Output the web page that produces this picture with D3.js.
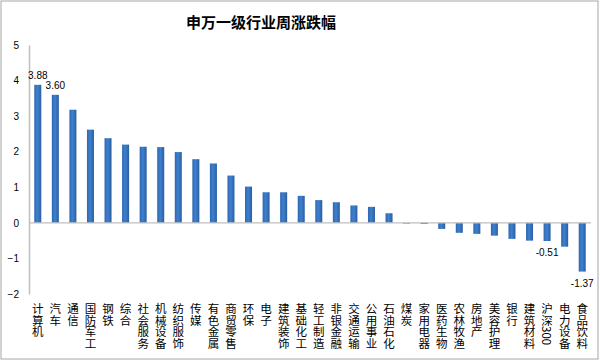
<!DOCTYPE html>
<html>
<head>
<meta charset="utf-8">
<script src="https://cdn.jsdelivr.net/npm/d3@7"></script>
<style>
  body { margin: 0; background: #fff; }
  svg { display: block; }
</style>
</head>
<body>
<div id="chart"></div>
<script>
var categories = ["计算机","汽车","通信","国防军工","钢铁","综合","社会服务","机械设备","纺织服饰","传媒",
    "有色金属","商贸零售","环保","电子","建筑装饰","基础化工","轻工制造","非银金融","交通运输","公用事业",
    "石油石化","煤炭","家用电器","医药生物","农林牧渔","房地产","美容护理","银行","建筑材料","沪深300",
    "电力设备","食品饮料"];
var values = [3.88, 3.60, 3.18, 2.62, 2.38, 2.20, 2.14, 2.13, 1.99, 1.79,
    1.67, 1.33, 1.02, 0.86, 0.86, 0.76, 0.64, 0.58, 0.49, 0.45,
    0.27, -0.02, -0.03, -0.17, -0.28, -0.31, -0.36, -0.45, -0.50, -0.51,
    -0.67, -1.37];
var labelled = ["计算机", "汽车", "沪深300", "食品饮料"];
var yTicks = [-2, -1, 0, 1, 2, 3, 4, 5];
var title = "申万一级行业周涨跌幅";

var width = 600, height = 361;
var svg = d3.select("#chart").append("svg")
    .attr("width", width)
    .attr("height", height);

// outer frame
svg.append("rect")
    .attr("x", 1).attr("y", 1)
    .attr("width", width - 3).attr("height", height - 3)
    .attr("fill", "#fff")
    .attr("stroke", "#a6a6a6")
    .attr("stroke-width", 1);

var defs = svg.append("defs");
var grad = defs.append("linearGradient")
    .attr("id", "barGrad")
    .attr("x1", 0).attr("y1", 0).attr("x2", 1).attr("y2", 0);
grad.append("stop").attr("offset", "0%").attr("stop-color", "#2f67b0");
grad.append("stop").attr("offset", "45%").attr("stop-color", "#3d80d0");
grad.append("stop").attr("offset", "100%").attr("stop-color", "#2c5f9f");

svg.append("text")
    .attr("x", 261).attr("y", 28)
    .attr("text-anchor", "middle")
    .style("font-family", "'Noto Sans CJK SC', sans-serif")
    .style("font-size", "15px")
    .style("font-weight", "bold")
    .attr("fill", "#000")
    .text(title);

var x = d3.scaleBand()
    .domain(categories)
    .range([29, 591])
    .paddingInner(0.6)
    .paddingOuter(0.3);

var y = d3.scaleLinear()
    .domain([-2, 5])
    .range([294, 45]);

// y axis
var yAxis = d3.axisLeft(y).tickValues(yTicks).tickFormat(d3.format("d")).tickSize(0).tickPadding(10);
var gy = svg.append("g")
    .attr("transform", "translate(29,0)")
    .call(yAxis);
gy.select(".domain").attr("stroke", "#bfbfbf").attr("stroke-width", 1.5);
gy.selectAll("text")
    .style("font-family", "'Liberation Sans', Arial, sans-serif")
    .style("font-size", "10px")
    .attr("fill", "#000");

// bars
svg.selectAll(".bar")
    .data(values).enter().append("rect")
    .attr("class", "bar")
    .attr("x", function(d, i){ return x(categories[i]); })
    .attr("y", function(d){ return y(Math.max(0, d)); })
    .attr("width", x.bandwidth())
    .attr("height", function(d){ return Math.abs(y(d) - y(0)); })
    .attr("fill", "url(#barGrad)");

// zero line
svg.append("line")
    .attr("x1", 29).attr("x2", 591)
    .attr("y1", y(0)).attr("y2", y(0))
    .attr("stroke", "#bfbfbf")
    .attr("stroke-width", 1.2);

// data labels
svg.selectAll(".dlabel")
    .data(values.filter(function(d, i){ return labelled.indexOf(categories[i]) >= 0; }))
    .enter().append("text")
    .attr("class", "dlabel")
    .attr("x", function(d){
        var i = values.indexOf(d);
        return x(categories[i]) + x.bandwidth() / 2;
    })
    .attr("y", function(d){ return d >= 0 ? y(d) - 6 : y(d) + 15; })
    .attr("text-anchor", "middle")
    .style("font-family", "'Liberation Sans', Arial, sans-serif")
    .style("font-size", "10px")
    .attr("fill", "#000")
    .text(function(d){ return d.toFixed(2); });

// category labels (vertical)
svg.selectAll(".cat")
    .data(categories).enter().append("text")
    .attr("class", "cat")
    .attr("x", function(d){ return x(d) + x.bandwidth() / 2; })
    .attr("y", 303)
    .style("writing-mode", "vertical-rl")
    .style("font-family", "'Noto Sans CJK SC', sans-serif")
    .style("font-size", "11.5px")
    .attr("fill", "#000")
    .text(function(d){ return d; });
</script>
</body>
</html>
